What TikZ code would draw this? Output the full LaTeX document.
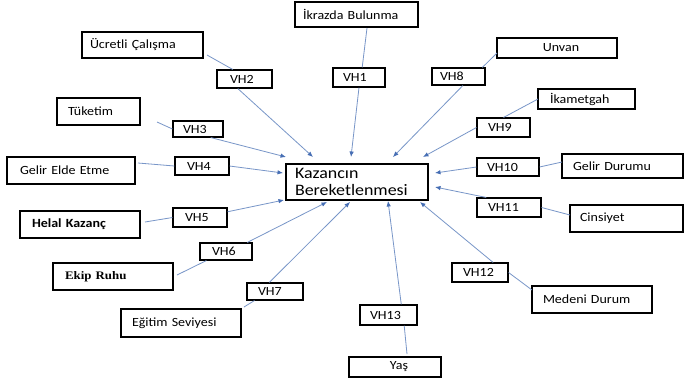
\documentclass[tikz,border=0pt]{standalone}
\usepackage{fontspec}
\setmainfont[FakeStretch=1.12]{Carlito}
\newfontfamily\serifb[FakeStretch=1.12]{Liberation Serif}
\usetikzlibrary{arrows.meta,calc}
\definecolor{linec}{RGB}{120,150,200}
\definecolor{tipc}{RGB}{70,110,180}
\begin{document}
\begin{tikzpicture}[x=1pt,y=-1pt,
  bx/.style={draw=black, line width=1.1pt, inner ysep=0pt, align=left,
     font=\fontsize{12.5}{14}\selectfont},
  conn/.style={draw=linec, line width=0.8pt},
  arr/.style={conn, -{Latex[length=5.5pt,width=4.5pt,color=tipc]}}]
\useasboundingbox[fill=white] (0,0) rectangle (684,384);
% main
\node[bx, minimum height=36pt, inner xsep=9pt, text width=124pt,
  font=\fontsize{16}{17}\selectfont] (main) at (357,182) {Kazancın\\Bereketlenmesi};
% factors
\node[bx, minimum height=25pt, inner xsep=8pt, text width=107pt] (ikr) at (356.5,14.5) {İkrazda Bulunma};
\node[bx, minimum height=26pt, inner xsep=8pt, text width=105pt] (ucr) at (142.5,45) {Ücretli Çalışma};
\node[bx, minimum height=27pt, inner xsep=11pt, text width=61pt] (tuk) at (98.5,111.5) {Tüketim};
\node[bx, minimum height=27pt, inner xsep=13pt, text width=102pt] (gee) at (71,170.5) {Gelir Elde Etme};
\node[bx, minimum height=27pt, inner xsep=12pt, text width=96pt] (hel) at (80,224.5) {\bfseries Helal Kazanç};
\node[bx, minimum height=27pt, inner xsep=12pt, text width=96pt] (eki) at (113,276.5) {\serifb\bfseries\fontsize{11.5}{13}\selectfont Ekip Ruhu};
\node[bx, minimum height=28pt, inner xsep=11pt, text width=98pt] (egi) at (181,323) {Eğitim Seviyesi};
\node[bx, minimum height=20pt, inner xsep=4pt, text width=84pt, align=center] (yas) at (395,367) {\hspace*{8pt}Yaş};
\node[bx, minimum height=27pt, inner xsep=11pt, text width=98pt] (med) at (592,299.5) {Medeni Durum};
\node[bx, minimum height=27pt, inner xsep=10pt, text width=93pt] (cin) at (626.5,218.5) {Cinsiyet};
\node[bx, minimum height=24pt, inner xsep=11pt, text width=99pt] (gdu) at (622.5,166) {Gelir Durumu};
\node[bx, minimum height=20pt, inner xsep=12pt, text width=73pt] (ika) at (586.5,99) {İkametgah};
\node[bx, minimum height=20pt, inner xsep=4pt, text width=112pt, align=center] (unv) at (557,48) {\hspace*{8pt}Unvan};
% VH boxes
\node[bx, minimum height=19pt, inner xsep=10pt, text width=32pt] (vh1) at (359,77.5) {VH1};
\node[bx, minimum height=18pt, inner xsep=13pt, text width=29pt] (vh2) at (244.5,79) {VH2};
\node[bx, minimum height=16pt, inner xsep=10pt, text width=30pt] (vh3) at (198,129) {VH3};
\node[bx, minimum height=18pt, inner xsep=12pt, text width=30pt] (vh4) at (202,166) {VH4};
\node[bx, minimum height=19pt, inner xsep=12pt, text width=30pt] (vh5) at (200,217.5) {VH5};
\node[bx, minimum height=17pt, inner xsep=12pt, text width=28pt] (vh6) at (226,251.5) {VH6};
\node[bx, minimum height=17pt, inner xsep=11pt, text width=34pt] (vh7) at (275,291.5) {VH7};
\node[bx, minimum height=17pt, inner xsep=8pt, text width=37pt] (vh8) at (458.5,76.5) {VH8};
\node[bx, minimum height=19pt, inner xsep=11pt, text width=31pt] (vh9) at (503.5,127.5) {VH9};
\node[bx, minimum height=18pt, inner xsep=10pt, text width=42pt] (vh10) at (508,167) {VH10};
\node[bx, minimum height=19pt, inner xsep=11pt, text width=42pt] (vh11) at (509,207.5) {VH11};
\node[bx, minimum height=19pt, inner xsep=11pt, text width=34pt] (vh12) at (480,272.5) {VH12};
\node[bx, minimum height=20pt, inner xsep=10pt, text width=37pt] (vh13) at (388.5,315) {VH13};
% free ends near factor boxes
\coordinate (a1) at (367,28);
\coordinate (a2) at (207,55);
\coordinate (a3) at (157,122);
\coordinate (a4) at (138,163);
\coordinate (a5) at (145,222);
\coordinate (a6) at (177,275);
\coordinate (a7) at (244,307);
\coordinate (a8) at (497,53);
\coordinate (a9) at (538,99);
\coordinate (a10) at (562,162);
\coordinate (a11) at (570,215);
\coordinate (a12) at (532,290);
\coordinate (a13) at (407,354);
% arrow tips near main box
\coordinate (t1) at (351,157);
\coordinate (t2) at (313,157);
\coordinate (t3) at (286,157);
\coordinate (t4) at (283,173);
\coordinate (t5) at (284,200);
\coordinate (t6) at (327,202);
\coordinate (t7) at (350,202);
\coordinate (t8) at (393,157);
\coordinate (t9) at (423,157);
\coordinate (t10) at (435,173);
\coordinate (t11) at (435,187);
\coordinate (t12) at (420,202);
\coordinate (t13) at (388,201);
% factor -> VH
\draw[conn] (a1) -- ($(vh1.north west)!0.56!(vh1.north east)$);
\draw[conn] (a2) -- ($(vh2.north west)!0.29!(vh2.north east)$);
\draw[conn] (a3) -- (vh3.west);
\draw[conn] (a4) -- (vh4.west);
\draw[conn] (a5) -- (vh5.west);
\draw[conn] (a6) -- ($(vh6.south west)!0.13!(vh6.south east)$);
\draw[conn] (a7) -- ($(vh7.south west)!0.14!(vh7.south east)$);
\draw[conn] (a8) -- ($(vh8.north west)!0.94!(vh8.north east)$);
\draw[conn] (a9) -- (vh9.north);
\draw[conn] (a10) -- (vh10.east);
\draw[conn] (a11) -- (vh11.east);
\draw[conn] (a12) -- (vh12.east);
\draw[conn] (a13) -- ($(vh13.south west)!0.77!(vh13.south east)$);
% VH -> main
\draw[arr] (vh1.south) -- (t1);
\draw[arr] ($(vh2.south west)!0.38!(vh2.south east)$) -- (t2);
\draw[arr] ($(vh3.south west)!0.75!(vh3.south east)$) -- (t3);
\draw[arr] (vh4.east) -- (t4);
\draw[arr] (vh5) -- (t5);
\draw[arr] ($(vh6.north west)!0.9!(vh6.north east)$) -- (t6);
\draw[arr] ($(vh7.north west)!0.4!(vh7.north east)$) -- (t7);
\draw[arr] ($(vh8.south west)!0.58!(vh8.south east)$) -- (t8);
\draw[arr] (vh9.west) -- (t9);
\draw[arr] (vh10.west) -- (t10);
\draw[arr] ($(vh11.north west)!0.15!(vh11.north east)$) -- (t11);
\draw[arr] ($(vh12.north west)!0.73!(vh12.north east)$) -- (t12);
\draw[arr] ($(vh13.north west)!0.72!(vh13.north east)$) -- (t13);
\end{tikzpicture}
\end{document}
